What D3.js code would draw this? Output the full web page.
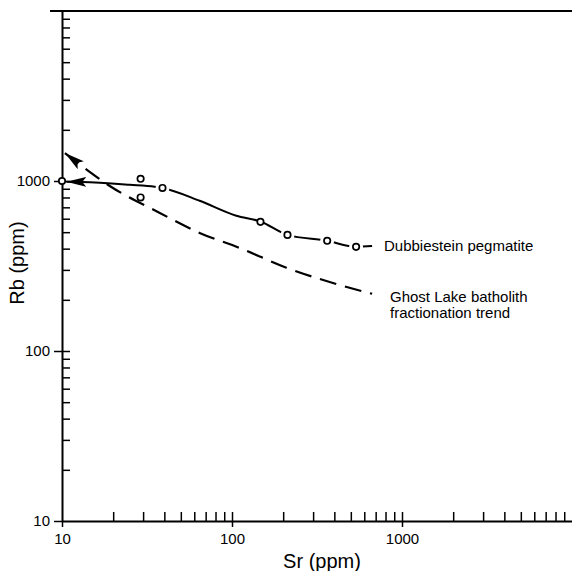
<!DOCTYPE html>
<html>
<head>
<meta charset="utf-8">
<script src="https://cdn.jsdelivr.net/npm/d3@7"></script>
<style>
  html, body { margin: 0; padding: 0; background: #fff; }
  svg { display: block; }
  text { font-family: "Liberation Sans", Arial, Helvetica, sans-serif; fill: #000; }
</style>
</head>
<body>
<svg id="chart" width="572" height="571"></svg>
<script>
// Rb vs Sr (ppm), log-log
const xTickLabels = [10, 100, 1000];
const yTickLabels = [10, 100, 1000];
const decadeMultiples = [2, 3, 4, 5, 6, 7, 8, 9];

// Dubbiestein pegmatite samples: [Sr, Rb]
const dubbiesteinSamples = [
  [10, 1000], [29, 1030], [29, 800], [39, 910],
  [147, 575], [212, 482], [363, 445], [537, 410]
];
// Hand-fitted trend through the pegmatite samples: [Sr, Rb]
const dubbiesteinTrend = [
  [10.6, 990], [13.1, 987], [25.1, 950], [35.1, 925], [39, 910],
  [64.5, 765], [106, 625], [147, 578], [212, 482], [363, 445],
  [537, 410], [667, 414]
];
// Ghost Lake batholith fractionation trend: [Sr, Rb]
const ghostLakeTrend = [
  [10.4, 1460], [13.1, 1224], [19.1, 935], [37.6, 649], [64.5, 495],
  [110.6, 404], [209, 309], [388, 252], [667, 217]
];

const svg = d3.select("#chart");

const x = d3.scaleLog().domain([10, 10000]).range([62, 572]);
const y = d3.scaleLog().domain([10, 10000]).range([521, 11]);

const minorOf = labels => labels.flatMap(d => decadeMultiples.map(m => d * m));
const xMinor = minorOf(xTickLabels).concat(xTickLabels.slice(1));
const yMinor = minorOf(yTickLabels).concat(yTickLabels.slice(1));

// ---- axes ----
const styleAxis = (g, width) => {
  g.selectAll("path.domain").attr("stroke", "#000").attr("stroke-width", width);
  g.selectAll(".tick line").attr("stroke", "#000").attr("stroke-width", 1.5);
};

// inward minor ticks
svg.append("g")
  .attr("transform", `translate(0,${y(10)})`)
  .call(d3.axisBottom(x).tickValues(xMinor).tickSize(-9).tickSizeOuter(0).tickFormat(""))
  .call(g => { g.select("path.domain").remove(); styleAxis(g); });

svg.append("g")
  .attr("transform", `translate(${x(10)},0)`)
  .call(d3.axisLeft(y).tickValues(yMinor).tickSize(-8).tickSizeOuter(0).tickFormat(""))
  .call(g => { g.select("path.domain").remove(); styleAxis(g); });

// labelled major ticks and axis lines
svg.append("g")
  .attr("transform", `translate(0,${y(10)})`)
  .call(d3.axisBottom(x).tickValues(xTickLabels).tickSize(6).tickSizeOuter(0).tickPadding(6)
    .tickFormat(d3.format("d")))
  .call(g => {
    styleAxis(g, 2);
    g.selectAll("text").attr("font-size", 15).attr("font-family", "Liberation Sans, Arial, sans-serif");
  });

svg.append("g")
  .attr("transform", `translate(${x(10)},0)`)
  .call(d3.axisLeft(y).tickValues(yTickLabels).tickSize(8).tickSizeOuter(0).tickPadding(4)
    .tickFormat(d3.format("d")))
  .call(g => {
    styleAxis(g, 2);
    g.selectAll("text").attr("font-size", 15).attr("font-family", "Liberation Sans, Arial, sans-serif");
  });

// top frame line
svg.append("line")
  .attr("x1", x(10) - 12).attr("x2", x(10000))
  .attr("y1", y(10000)).attr("y2", y(10000))
  .attr("stroke", "#000").attr("stroke-width", 2);

// axis titles
svg.append("text")
  .attr("x", 322).attr("y", 568)
  .attr("text-anchor", "middle")
  .attr("font-size", 20)
  .text("Sr (ppm)");

svg.append("text")
  .attr("transform", "translate(24,263) rotate(-90)")
  .attr("text-anchor", "middle")
  .attr("font-size", 20)
  .text("Rb (ppm)");

// ---- arrowheads (tip sits on the start of each trend) ----
const defs = svg.append("defs");
defs.append("marker")
  .attr("id", "arrow")
  .attr("viewBox", "0 0 20 10")
  .attr("refX", 20).attr("refY", 5)
  .attr("markerWidth", 20).attr("markerHeight", 10)
  .attr("markerUnits", "userSpaceOnUse")
  .attr("orient", "auto-start-reverse")
  .append("path")
  .attr("d", "M0,0 L20,5 L0,10 L4,5 Z")
  .attr("fill", "#000");

const line = d3.line()
  .x(d => x(d[0]))
  .y(d => y(d[1]))
  .curve(d3.curveMonotoneX);

// Ghost Lake batholith trend (dashed)
svg.append("path")
  .datum(ghostLakeTrend)
  .attr("d", line)
  .attr("fill", "none")
  .attr("stroke", "#000")
  .attr("stroke-width", 2.2)
  .attr("stroke-dasharray", "17,9")
  .attr("stroke-dashoffset", 0)
  .attr("marker-start", "url(#arrow)");

// Dubbiestein pegmatite trend (solid)
svg.append("path")
  .datum(dubbiesteinTrend)
  .attr("d", line)
  .attr("fill", "none")
  .attr("stroke", "#000")
  .attr("stroke-width", 2)
  .attr("marker-start", "url(#arrow)");

// white gaps where the trend is broken at the samples
svg.append("g")
  .selectAll("circle")
  .data(dubbiesteinSamples.filter(d => d[0] > 30 && d[0] !== 147))
  .join("circle")
  .attr("cx", d => x(d[0]))
  .attr("cy", d => y(d[1]))
  .attr("r", 7)
  .attr("fill", "#fff");

// samples
svg.append("g")
  .selectAll("circle")
  .data(dubbiesteinSamples)
  .join("circle")
  .attr("cx", d => x(d[0]))
  .attr("cy", d => y(d[1]))
  .attr("r", 3.2)
  .attr("fill", "#fff")
  .attr("stroke", "#000")
  .attr("stroke-width", 1.7);

// series labels
svg.append("text")
  .attr("x", 384).attr("y", 251)
  .attr("font-size", 15)
  .text("Dubbiestein pegmatite");

const gl = svg.append("text")
  .attr("x", 390).attr("y", 302)
  .attr("font-size", 15);
gl.append("tspan").attr("x", 390).text("Ghost Lake batholith");
gl.append("tspan").attr("x", 390).attr("dy", 15.5).text("fractionation trend");
</script>
</body>
</html>
